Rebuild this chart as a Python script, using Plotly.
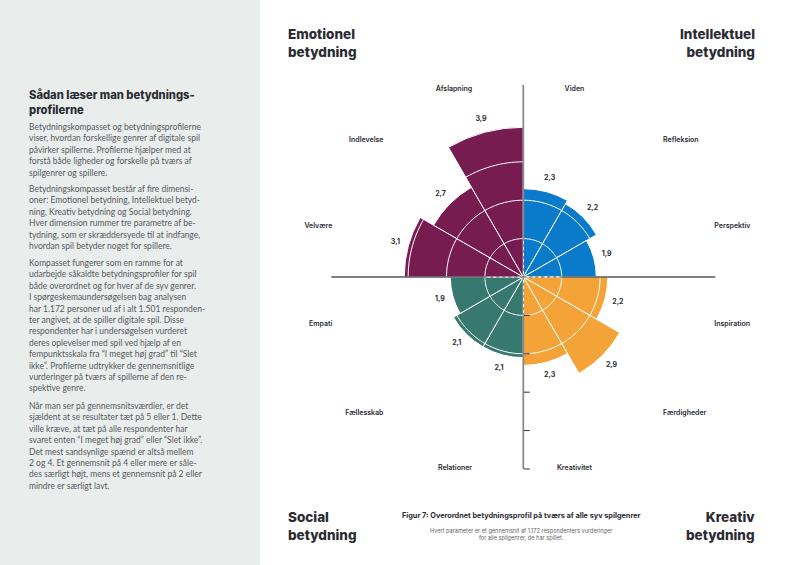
import plotly.graph_objects as go

# ---------------- data ----------------
categories = ["Viden", "Refleksion", "Perspektiv",
              "Inspiration", "Færdigheder", "Kreativitet",
              "Relationer", "Fællesskab", "Empati",
              "Velvære", "Indlevelse", "Afslapning"]
values = [2.3, 2.2, 1.9,
          2.2, 2.9, 2.3,
          2.1, 2.1, 1.9,
          3.1, 2.7, 3.9]
groups = ["Intellektuel", "Intellektuel", "Intellektuel",
          "Kreativ", "Kreativ", "Kreativ",
          "Social", "Social", "Social",
          "Emotionel", "Emotionel", "Emotionel"]
group_colors = {"Intellektuel": "#0a7acb", "Kreativ": "#f4a339",
                "Social": "#37786f", "Emotionel": "#761c50"}
radial_ticks = [1, 2, 3, 4, 5]
scale_max = 5

# sector centres (degrees, clockwise from top)
thetas = [15 + 30 * i for i in range(len(categories))]
colors = [group_colors[g] for g in groups]
value_text = [f"{v:.1f}".replace(".", ",") for v in values]

FONT = "Inter"
BODYFONT = "Lato"
DARK = "#2b2b33"

fig = go.Figure()

fig.add_trace(go.Barpolar(
    r=values, theta=thetas, width=[30] * len(values),
    marker=dict(color=colors, line=dict(color="white", width=1)),
    hoverinfo="skip", showlegend=False))

# white grid circles on top of bars (invisible on the white background)
circ_theta = list(range(0, 361, 2))
for k in [1, 2, 3, 4]:
    fig.add_trace(go.Scatterpolar(
        r=[k] * len(circ_theta), theta=circ_theta, mode="lines",
        line=dict(color="white", width=1), hoverinfo="skip", showlegend=False))

# axis cross
for ang, col, w in [(0, "#8a8a8e", 1.8), (180, "#8a8a8e", 1.8),
                    (90, "#55555b", 1.5), (270, "#55555b", 1.5)]:
    fig.add_trace(go.Scatterpolar(
        r=[1, scale_max], theta=[ang, ang], mode="lines",
        line=dict(color=col, width=w), hoverinfo="skip", showlegend=False))
    fig.add_trace(go.Scatterpolar(
        r=[0, 1], theta=[ang, ang], mode="lines",
        line=dict(color=col, width=1.2, dash="dot"), hoverinfo="skip", showlegend=False))

# value labels
fig.add_trace(go.Scatterpolar(
    r=[v + 0.35 for v in values], theta=thetas, mode="text", text=value_text,
    textfont=dict(family=FONT, size=7, color=DARK, weight="bold"),
    cliponaxis=False, hoverinfo="skip", showlegend=False))

# category labels
pos_map = {15: "bottom center", 45: "bottom right", 75: "middle right",
           105: "top right", 135: "top right", 165: "middle center",
           195: "middle left", 225: "top left", 255: "top left",
           285: "middle left", 315: "bottom left", 345: "bottom left"}
positions = [pos_map[t] for t in thetas]
fig.add_trace(go.Scatterpolar(
    r=[5.15] * len(categories), theta=thetas, mode="text", text=categories,
    textposition=positions,
    textfont=dict(family=FONT, size=7, color=DARK, weight=600),
    cliponaxis=False, hoverinfo="skip", showlegend=False))

fig.update_layout(
    width=800, height=565,
    margin=dict(l=0, r=0, t=0, b=0),
    paper_bgcolor="white",
    showlegend=False,
    polar=dict(
        domain=dict(x=[0.38538, 0.92288], y=[0.12920, 0.89027]),
        bgcolor="rgba(0,0,0,0)",
        angularaxis=dict(rotation=90, direction="clockwise", thetaunit="degrees",
                         showgrid=False, showline=False, showticklabels=False, ticks=""),
        radialaxis=dict(range=[0, 5.6], angle=-90, side="counterclockwise",
                        tickvals=radial_ticks, ticks="outside", ticklen=6,
                        tickwidth=1.2, tickcolor="#333",
                        showgrid=False, showline=False, showticklabels=False),
    ),
    shapes=[dict(type="rect", xref="paper", yref="paper", x0=0, x1=260 / 800,
                 y0=0, y1=1, fillcolor="#e9eeec", line=dict(width=0), layer="below")],
)

def ann(text, x, y, size, color=DARK, bold=False, xanchor="left", align="left",
        yanchor="top", family=FONT, weight=None):
    fig.add_annotation(
        text=text, x=x / 800, y=1 - y / 565, xref="paper", yref="paper",
        xanchor=xanchor, yanchor=yanchor, align=align, showarrow=False,
        font=dict(family=family, size=size, color=color,
                  weight=weight if weight else ("bold" if bold else "normal")))

# quadrant titles
ann("Emotionel<br>betydning", 286, 24, 13.5, weight=800)
ann("Intellektuel<br>betydning", 757, 24, 13.5, weight=800, xanchor="right", align="right")
ann("Social<br>betydning", 286, 507, 13.5, weight=800)
ann("Kreativ<br>betydning", 757, 507, 13.5, weight=800, xanchor="right", align="right")

# figure caption
ann("Figur 7: Overordnet betydningsprofil på tværs af alle syv spilgenrer",
    521, 509, 7.3, bold=True, xanchor="center", align="center")
ann("Hvert parameter er et gennemsnit af 1.172 respondenters vurderinger<br>"
    "for alle spilgenrer, de har spillet.",
    521, 524.5, 5.6, color="#666", xanchor="center", align="center")

# left panel
ann("Sådan læser man betydnings-<br>profilerne", 27, 86, 11.2, weight=800)
BODY = "#58585e"
paragraphs = [
    (119.5, ["Betydningskompasset og betydningsprofilerne",
             "viser, hvordan forskellige genrer af digitale spil",
             "påvirker spillerne. Profilerne hjælper med at",
             "forstå både ligheder og forskelle på tværs af",
             "spilgenrer og spillere."]),
    (182.5, ["Betydningskompasset består af fire dimensi-",
             "oner: Emotionel betydning, Intellektuel betyd-",
             "ning, Kreativ betydning og Social betydning.",
             "Hver dimension rummer tre parametre af be-",
             "tydning, som er skræddersyede til at indfange,",
             "hvordan spil betyder noget for spillere."]),
    (256, ["Kompasset fungerer som en ramme for at",
           "udarbejde såkaldte betydningsprofiler for spil",
           "både overordnet og for hver af de syv genrer.",
           "I spørgeskemaundersøgelsen bag analysen",
           "har 1.172 personer ud af i alt 1.501 responden-",
           "ter angivet, at de spiller digitale spil. Disse",
           "respondenter har i undersøgelsen vurderet",
           "deres oplevelser med spil ved hjælp af en",
           "fempunktsskala fra “I meget høj grad” til “Slet",
           "ikke”. Profilerne udtrykker de gennemsnitlige",
           "vurderinger på tværs af spillerne af den re-",
           "spektive genre."]),
    (398.5, ["Når man ser på gennemsnitsværdier, er det",
             "sjældent at se resultater tæt på 5 eller 1. Dette",
             "ville kræve, at tæt på alle respondenter har",
             "svaret enten “I meget høj grad” eller “Slet ikke”.",
             "Det mest sandsynlige spænd er altså mellem",
             "2 og 4. Et gennemsnit på 4 eller mere er såle-",
             "des særligt højt, mens et gennemsnit på 2 eller",
             "mindre er særligt lavt."]),
]
for y, lines in paragraphs:
    txt = "<br>".join(f'<span style="font-size:8.5px">{ln}</span>' for ln in lines)
    ann(txt, 27, y, 8.77, color=BODY, family=BODYFONT)

fig.write_html("out.html")
